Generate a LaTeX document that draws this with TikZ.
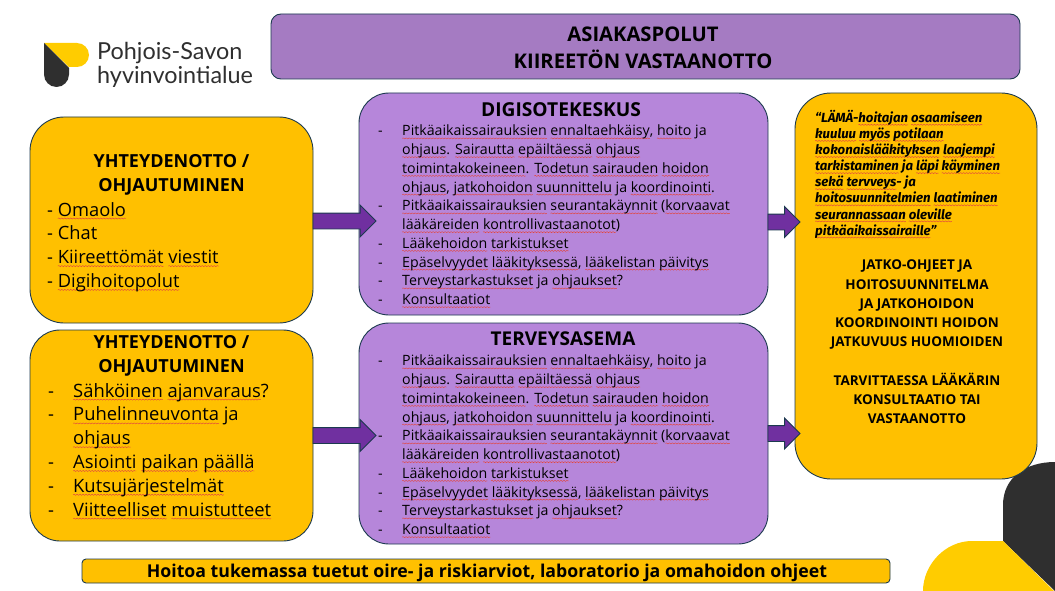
\documentclass[tikz,border=0pt]{standalone}
\usepackage{fontspec}
\setmainfont{Open Sans}
\newfontfamily\quotefont{Fira Sans}
\newfontfamily\logofont{Lato}
\usetikzlibrary{shapes.arrows,decorations.pathmorphing}
\definecolor{edgeC}{HTML}{1C3A4F}
\definecolor{goldC}{HTML}{FFC000}
\definecolor{lilacA}{HTML}{A57BC2}
\definecolor{lilacB}{HTML}{B686DA}
\definecolor{arrowC}{HTML}{7030A0}
\definecolor{darkC}{HTML}{2F2F2F}
\definecolor{logoY}{HTML}{FFCC00}
\definecolor{squigC}{HTML}{E2473F}
\newsavebox\sqbox
\newlength\sqw
\newcommand\sq[1]{\sbox\sqbox{#1}\setlength\sqw{\wd\sqbox}\begin{tikzpicture}[overlay,x=1pt,y=1pt]\draw[squigC,line width=.45pt,decorate,decoration={snake,amplitude=.55pt,segment length=3pt}] (0pt,-2.4pt) -- (\sqw,-2.4pt);\end{tikzpicture}\usebox\sqbox}
\newcommand\bl[1]{\makebox[24pt][l]{-}#1}
\newcommand\cl[1]{\hspace*{24pt}#1}
\tikzset{
  box/.style={draw=edgeC,line width=.9pt,rounded corners=#1,inner sep=0pt,outer sep=0pt},
  txt/.style={inner sep=0pt,align=left,anchor=north west,text=black},
  ctr/.style={inner sep=0pt,align=center,anchor=north,text=black},
  bigarrow/.style={single arrow,draw=edgeC,fill=arrowC,line width=.9pt,inner xsep=0pt,inner ysep=7.5pt,outer sep=0pt,single arrow head extend=8pt,minimum height=63pt,anchor=tail},
  smallarrow/.style={bigarrow,minimum height=32pt,single arrow head extend=7.5pt}
}
\begin{document}
\begin{tikzpicture}[x=1pt,y=-1pt]
\useasboundingbox (0,0) rectangle (1055,591);
% logo
\fill[logoY] (44,43) -- (77,43) arc[start angle=-90,end angle=90,radius=12] -- (69,67) -- cycle;
\fill[darkC] (44,43) -- (69,68) -- (69,74.5) arc[start angle=0,end angle=180,radius=12.5] -- cycle;
\node[txt,text=darkC,font=\fontsize{23.4}{23.5}\selectfont\logofont] (logo) at (97,42.5) {Pohjois-Savon\\hyvinvointialue};
% corner
\fill[darkC] (1003,541) -- (1003,505) .. controls (1003,478) and (1025,462) .. (1055,462) -- (1055,591) -- cycle;
\fill[logoY] (1003,541) -- (972,541) .. controls (945,541) and (923,565) .. (923,591) -- (1054,591) -- cycle;
% boxes
\node[box=10pt,fill=lilacA,minimum width=749pt,minimum height=65pt] (titlebox) at (645.5,46.5) {};
\node[ctr,font=\fontsize{20.2}{27}\selectfont\bfseries] (title) at (643,27) {ASIAKASPOLUT\\KIIREETÖN VASTAANOTTO};
\node[box=34pt,fill=goldC,minimum width=283pt,minimum height=206pt] (b1) at (171.5,220) {};
\node[box=30pt,fill=goldC,minimum width=283pt,minimum height=211pt] (b2) at (171.5,435.5) {};
\node[box=30pt,fill=lilacB,minimum width=409pt,minimum height=222pt] (d1) at (563.5,204) {};
\node[box=30pt,fill=lilacB,minimum width=409pt,minimum height=221pt] (d2) at (563.5,433.5) {};
\node[box=36pt,fill=goldC,minimum width=242pt,minimum height=386pt] (rbox) at (916,286) {};
\node[box=4pt,fill=goldC,minimum width=808pt,minimum height=24pt] (bbox) at (486,571) {};
% arrows
\node[bigarrow,yshift=-1pt] (a1) at (b1.east) {};
\node[bigarrow] (a2) at (b2.east) {};
\node[smallarrow,yshift=-18pt] (a3) at (d1.east) {};
\node[smallarrow] (a4) at (d2.east) {};
% left top
\node[ctr,font=\fontsize{18}{23.5}\selectfont\bfseries] (h1) at (171.5,154.5) {YHTEYDENOTTO /\\OHJAUTUMINEN};
\node[txt,font=\fontsize{18.3}{23.8}\selectfont] (l1) at (47,202) {- \sq{Omaolo}\\- Chat\\- \sq{Kiireettömät} \sq{viestit}\\- \sq{Digihoitopolut}};
% left bottom
\node[ctr,font=\fontsize{18}{23.5}\selectfont\bfseries] (h2) at (171.5,335.5) {YHTEYDENOTTO /\\OHJAUTUMINEN};
\node[txt,font=\fontsize{18.4}{23.8}\selectfont] (l2) at (48,383) {\makebox[25pt][l]{-}\sq{Sähköinen} \sq{ajanvaraus}?\\\makebox[25pt][l]{-}\sq{Puhelinneuvonta} ja\\\hspace*{25pt}\sq{ohjaus}\\\makebox[25pt][l]{-}\sq{Asiointi} \sq{paikan} \sq{päällä}\\\makebox[25pt][l]{-}\sq{Kutsujärjestelmät}\\\makebox[25pt][l]{-}\sq{Viitteelliset} \sq{muistutteet}};
% middle
\node[ctr,font=\fontsize{19.2}{22}\selectfont\bfseries] (h3) at (561,102) {DIGISOTEKESKUS};
\node[txt,font=\fontsize{14.2}{18.75}\selectfont] (m1) at (378,125) {\bl{\sq{Pitkäaikaissairauksien} \sq{ennaltaehkäisy}, \sq{hoito} ja}\\
\cl{\sq{ohjaus}. \sq{Sairautta} \sq{epäiltäessä} \sq{ohjaus}}\\
\cl{\sq{toimintakokeineen}. \sq{Todetun} \sq{sairauden} \sq{hoidon}}\\
\cl{\sq{ohjaus}, \sq{jatkohoidon} \sq{suunnittelu} ja \sq{koordinointi}.}\\
\bl{\sq{Pitkäaikaissairauksien} \sq{seurantakäynnit} (\sq{korvaavat}}\\
\cl{\sq{lääkäreiden} \sq{kontrollivastaanotot})}\\
\bl{\sq{Lääkehoidon} \sq{tarkistukset}}\\
\bl{\sq{Epäselvyydet} \sq{lääkityksessä}, \sq{lääkelistan} \sq{päivitys}}\\
\bl{\sq{Terveystarkastukset} ja \sq{ohjaukset}?}\\
\bl{\sq{Konsultaatiot}}};
\node[ctr,font=\fontsize{19}{22}\selectfont\bfseries] (h4) at (563,332) {TERVEYSASEMA};
\node[txt,font=\fontsize{14.2}{18.75}\selectfont] (m2) at (378,355) {\bl{\sq{Pitkäaikaissairauksien} \sq{ennaltaehkäisy}, \sq{hoito} ja}\\
\cl{\sq{ohjaus}. \sq{Sairautta} \sq{epäiltäessä} \sq{ohjaus}}\\
\cl{\sq{toimintakokeineen}. \sq{Todetun} \sq{sairauden} \sq{hoidon}}\\
\cl{\sq{ohjaus}, \sq{jatkohoidon} \sq{suunnittelu} ja \sq{koordinointi}.}\\
\bl{\sq{Pitkäaikaissairauksien} \sq{seurantakäynnit} (\sq{korvaavat}}\\
\cl{\sq{lääkäreiden} \sq{kontrollivastaanotot})}\\
\bl{\sq{Lääkehoidon} \sq{tarkistukset}}\\
\bl{\sq{Epäselvyydet} \sq{lääkityksessä}, \sq{lääkelistan} \sq{päivitys}}\\
\bl{\sq{Terveystarkastukset} ja \sq{ohjaukset}?}\\
\bl{\sq{Konsultaatiot}}};
% right
\node[txt,font=\fontsize{13.2}{16.1}\selectfont\quotefont\bfseries\itshape] (q) at (815,110) {“LÄMÄ-\sq{hoitajan} \sq{osaamiseen}\\\sq{kuuluu} \sq{myös} \sq{potilaan}\\\sq{kokonaislääkityksen} \sq{laajempi}\\\sq{tarkistaminen} ja \sq{läpi} \sq{käyminen}\\\sq{sekä} \sq{tervveys}- ja\\\sq{hoitosuunnitelmien} \sq{laatiminen}\\\sq{seurannassaan} \sq{oleville}\\\sq{pitkäaikaissairaille}”};
\node[ctr,font=\fontsize{13.5}{19.2}\selectfont\bfseries] (r) at (917,260) {JATKO-OHJEET JA\\HOITOSUUNNITELMA\\JA JATKOHOIDON\\KOORDINOINTI HOIDON\\JATKUVUUS HUOMIOIDEN\\[19.2pt]TARVITTAESSA LÄÄKÄRIN\\KONSULTAATIO TAI\\VASTAANOTTO};
% bottom
\node[ctr,font=\fontsize{17.7}{20}\selectfont\bfseries] (b) at (487,563.5) {Hoitoa tukemassa tuetut oire- ja riskiarviot, laboratorio ja omahoidon ohjeet};
\end{tikzpicture}
\end{document}
